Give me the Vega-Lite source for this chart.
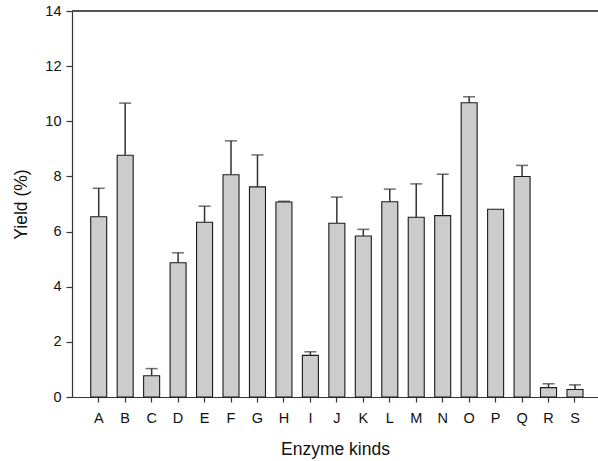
{
  "$schema": "https://vega.github.io/schema/vega-lite/v6.json",
  "width": 526,
  "height": 386,
  "autosize": "none",
  "padding": {"left": 72, "top": 11, "right": 0, "bottom": 64},
  "config": {
    "view": {"stroke": null},
    "font": "Liberation Sans",
    "axis": {"grid": false, "domainColor": "#333333", "tickColor": "#333333", "labelColor": "#111111", "titleColor": "#111111", "labelFont": "Liberation Sans", "titleFont": "Liberation Sans", "titleFontWeight": "normal", "labelFontSize": 14.5, "titleFontSize": 17.5, "domainWidth": 1.2, "tickWidth": 1.2}
  },
  "data": {
    "values": [
      {"kind": "A", "yield": 6.54, "upper": 7.57},
      {"kind": "B", "yield": 8.77, "upper": 10.66},
      {"kind": "C", "yield": 0.77, "upper": 1.03},
      {"kind": "D", "yield": 4.87, "upper": 5.23},
      {"kind": "E", "yield": 6.34, "upper": 6.92},
      {"kind": "F", "yield": 8.06, "upper": 9.29},
      {"kind": "G", "yield": 7.62, "upper": 8.78},
      {"kind": "H", "yield": 7.07, "upper": 7.1},
      {"kind": "I", "yield": 1.51, "upper": 1.64},
      {"kind": "J", "yield": 6.3, "upper": 7.25},
      {"kind": "K", "yield": 5.84, "upper": 6.08},
      {"kind": "L", "yield": 7.08, "upper": 7.54},
      {"kind": "M", "yield": 6.52, "upper": 7.73},
      {"kind": "N", "yield": 6.58, "upper": 8.08},
      {"kind": "O", "yield": 10.67, "upper": 10.89},
      {"kind": "P", "yield": 6.81, "upper": null},
      {"kind": "Q", "yield": 8.0, "upper": 8.4},
      {"kind": "R", "yield": 0.34, "upper": 0.48},
      {"kind": "S", "yield": 0.27, "upper": 0.44}
    ]
  },
  "encoding": {
    "x": {
      "field": "kind", "type": "nominal",
      "scale": {"paddingInner": 0.395, "paddingOuter": 0.637, "align": 0.555},
      "axis": {"title": "Enzyme kinds", "labelAngle": 0, "tickSize": 5, "labelPadding": 9, "titlePadding": 16}
    }
  },
  "layer": [
    {
      "mark": {"type": "bar", "fill": "#cccccc", "stroke": "#1a1a1a", "strokeWidth": 1.1},
      "encoding": {
        "y": {
          "field": "yield", "type": "quantitative",
          "scale": {"domain": [0, 14], "nice": false},
          "axis": {"title": "Yield (%)", "values": [0, 2, 4, 6, 8, 10, 12, 14], "tickSize": 6, "labelPadding": 5, "titlePadding": 14}
        }
      }
    },
    {
      "transform": [{"filter": "datum.upper != null"}],
      "mark": {"type": "rule", "color": "#333333", "strokeWidth": 1.5},
      "encoding": {
        "y": {"field": "yield", "type": "quantitative"},
        "y2": {"field": "upper"}
      }
    },
    {
      "transform": [{"filter": "datum.upper != null"}],
      "mark": {"type": "tick", "color": "#333333", "size": 12, "thickness": 1.5},
      "encoding": {
        "y": {"field": "upper", "type": "quantitative"}
      }
    },
    {
      "mark": {"type": "rule", "color": "#555555", "strokeWidth": 1.5},
      "encoding": {"y": {"datum": 14}, "x": null}
    }
  ]
}
